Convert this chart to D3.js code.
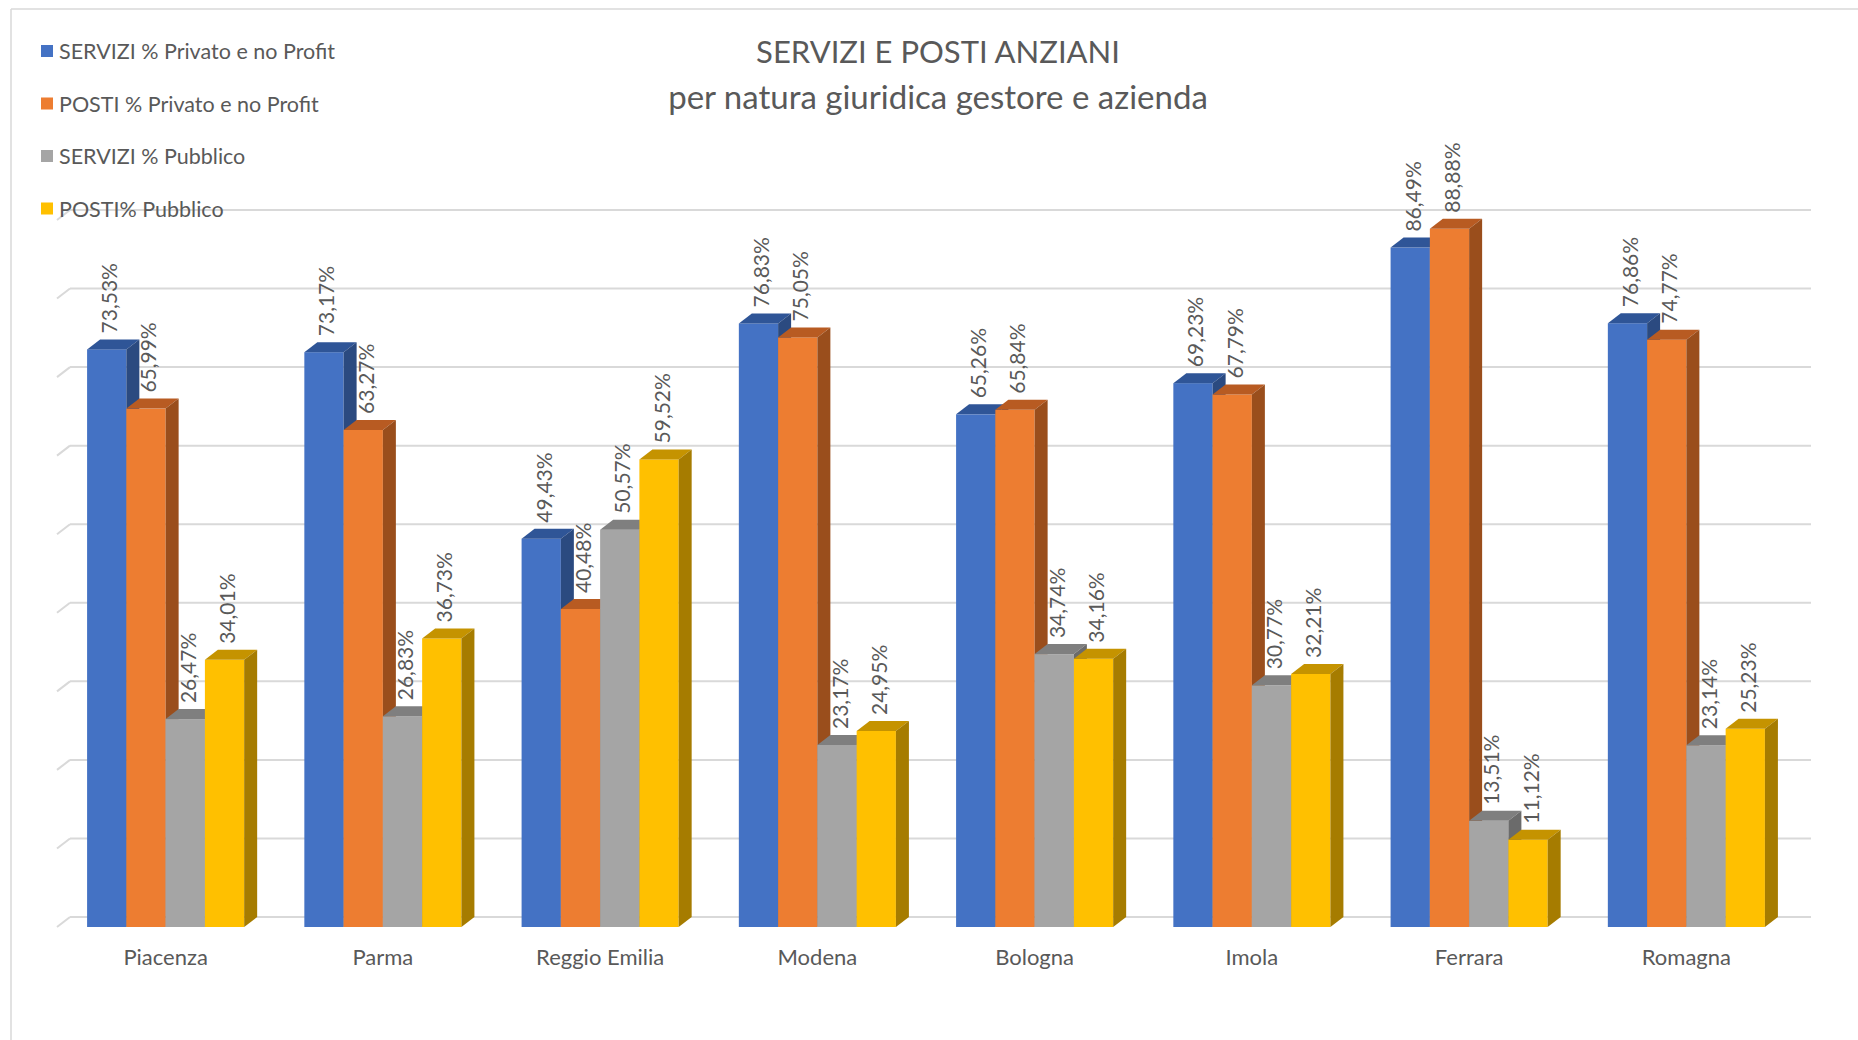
<!DOCTYPE html>
<html>
<head>
<meta charset="utf-8">
<script src="https://cdn.jsdelivr.net/npm/d3@7"></script>
<style>
  body { margin: 0; background: #fff; }
  text { font-family: Lato, "Open Sans", sans-serif; fill: #595959; }
</style>
</head>
<body>
<div id="chart"></div>
<script>
const WIDTH = 1858
const HEIGHT = 1040

const categories = ["Piacenza", "Parma", "Reggio Emilia", "Modena", "Bologna", "Imola", "Ferrara", "Romagna"]
const seriesNames = ["SERVIZI % Privato e no Profit", "POSTI % Privato e no Profit", "SERVIZI % Pubblico", "POSTI% Pubblico"]
const serviziPrivato = [73.53, 73.17, 49.43, 76.83, 65.26, 69.23, 86.49, 76.86]
const postiPrivato = [65.99, 63.27, 40.48, 75.05, 65.84, 67.79, 88.88, 74.77]
const serviziPubblico = [26.47, 26.83, 50.57, 23.17, 34.74, 30.77, 13.51, 23.14]
const postiPubblico = [34.01, 36.73, 59.52, 24.95, 34.16, 32.21, 11.12, 25.23]
const gridValues = [0, 10, 20, 30, 40, 50, 60, 70, 80, 90]

// front / top / side colours for each series
const colors = [
  {front: "#4472c4", top: "#2f5597", side: "#2b4a80"},
  {front: "#ed7d31", top: "#b85b22", side: "#9a4e1c"},
  {front: "#a5a5a5", top: "#7f7f7f", side: "#6b6b6b"},
  {front: "#ffc000", top: "#c59300", side: "#a67c00"}
]

const values = [serviziPrivato, postiPrivato, serviziPubblico, postiPubblico]

// depth of the fake 3d bars
const DX = 13
const DY = 10

const svg = d3.select("#chart").append("svg")
  .attr("width", WIDTH)
  .attr("height", HEIGHT)

// chart border (top and left only visible)
svg.append("line").attr("x1", 11).attr("y1", 9).attr("x2", WIDTH).attr("y2", 9)
  .attr("stroke", "#d9d9d9").attr("stroke-width", 1.5)
svg.append("line").attr("x1", 11).attr("y1", 9).attr("x2", 11).attr("y2", HEIGHT)
  .attr("stroke", "#d9d9d9").attr("stroke-width", 1.5)

const x0 = d3.scaleBand()
  .domain(categories)
  .range([57, 1795])
  .paddingInner(0.277)
  .paddingOuter(0.1385)

const x1 = d3.scaleBand()
  .domain(d3.range(seriesNames.length))
  .range([0, x0.bandwidth()])

const y = d3.scaleLinear()
  .domain([0, 90])
  .range([917, 210])

// gridlines on back wall + little diagonals on the side wall
const grid = svg.append("g")
grid.selectAll(".gl").data(gridValues).enter().append("line")
  .attr("x1", 57 + DX).attr("x2", 1795 + DX + 3)
  .attr("y1", d => y(d)).attr("y2", d => y(d))
  .attr("stroke", "#d9d9d9").attr("stroke-width", 2)
grid.selectAll(".gd").data(gridValues).enter().append("line")
  .attr("x1", 57).attr("x2", 57 + DX)
  .attr("y1", d => y(d) + DY).attr("y2", d => y(d))
  .attr("stroke", "#d9d9d9").attr("stroke-width", 2)

// bars, drawn left to right so right neighbours cover side faces
const bars = svg.append("g")
categories.forEach((cat, ci) => {
  values.forEach((vals, si) => {
    const v = vals[ci]
    const xl = x0(cat) + x1(si)
    const xr = xl + x1.bandwidth()
    const yt = y(v) + DY
    const yb = y(0) + DY
    const c = colors[si]
    bars.append("rect")
      .attr("x", xl).attr("y", yt)
      .attr("width", x1.bandwidth()).attr("height", yb - yt)
      .attr("fill", c.front)
    bars.append("polygon")
      .attr("points", [[xl, yt], [xl + DX, yt - DY], [xr + DX, yt - DY], [xr, yt]].join(" "))
      .attr("fill", c.top)
    bars.append("polygon")
      .attr("points", [[xr, yt], [xr + DX, yt - DY], [xr + DX, yb - DY], [xr, yb]].join(" "))
      .attr("fill", c.side)
  })
})

// data labels
const fmt = v => d3.format(".2f")(v).replace(".", ",") + "%"
const labels = svg.append("g")
categories.forEach((cat, ci) => {
  values.forEach((vals, si) => {
    const v = vals[ci]
    const cx = x0(cat) + x1(si) + x1.bandwidth() / 2 + 2
    const ty = y(v) - 6
    labels.append("text")
      .attr("transform", `translate(${cx},${ty}) rotate(-90)`)
      .attr("dominant-baseline", "central")
      .attr("font-size", 21)
      .text(fmt(v))
  })
})

// category labels
svg.append("g").selectAll("text").data(categories).enter().append("text")
  .attr("x", d => x0(d) + x0.bandwidth() / 2)
  .attr("y", 965)
  .attr("text-anchor", "middle")
  .attr("font-size", 22)
  .text(d => d)

// title
svg.append("text").attr("x", 938).attr("y", 63)
  .attr("text-anchor", "middle").attr("font-size", 31)
  .text("SERVIZI E POSTI ANZIANI")
svg.append("text").attr("x", 938).attr("y", 109)
  .attr("text-anchor", "middle").attr("font-size", 33)
  .text("per natura giuridica gestore e azienda")

// legend
const legend = svg.append("g")
seriesNames.forEach((name, i) => {
  const ly = 51 + i * 52.5
  legend.append("rect")
    .attr("x", 41).attr("y", ly - 6)
    .attr("width", 12).attr("height", 12)
    .attr("fill", colors[i].front)
  legend.append("text")
    .attr("x", 59).attr("y", ly)
    .attr("dominant-baseline", "central")
    .attr("font-size", 21.5)
    .text(name)
})
</script>
</body>
</html>
